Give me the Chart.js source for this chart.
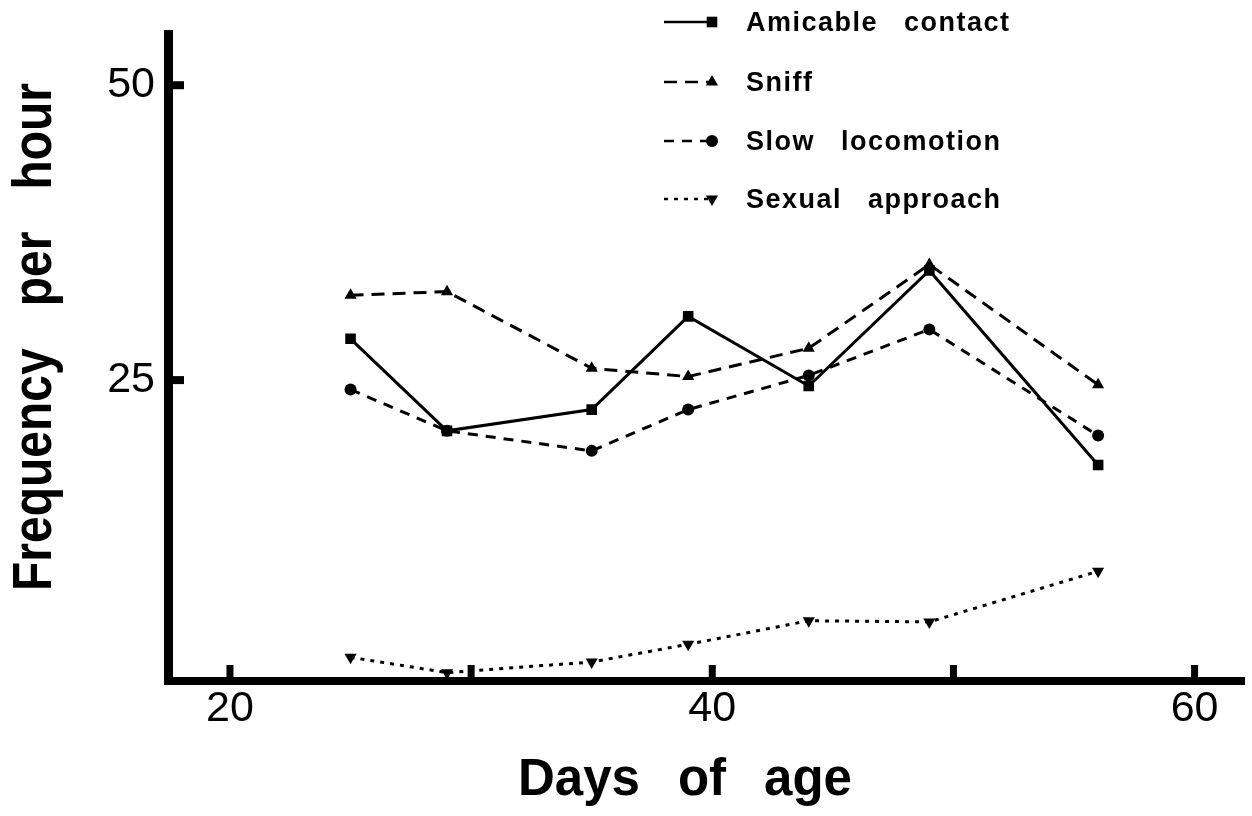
<!DOCTYPE html>
<html><head><meta charset="utf-8">
<script src="https://cdn.jsdelivr.net/npm/chart.js@4.4.1/dist/chart.umd.min.js"></script>
<style>html,body{margin:0;padding:0;background:#fff;} canvas{display:block;}</style>
</head><body>
<canvas id="c" width="1252" height="816"></canvas>
<script>
// ---- data ----
const days = [25, 29, 35, 39, 44, 49, 56];
const amicableContact = [28.5, 20.7, 22.5, 30.4, 24.5, 34.3, 17.8];
const sniff = [32.2, 32.5, 26.0, 25.3, 27.7, 34.8, 24.6];
const slowLocomotion = [24.2, 20.7, 19.0, 22.5, 25.4, 29.3, 20.3];
const sexualApproach = [1.5, 0.2, 1.1, 2.6, 4.6, 4.5, 8.8];
const seriesLabels = ['Amicable contact', 'Sniff', 'Slow locomotion', 'Sexual approach'];
const xTickLabels = [20, 40, 60];
const xTickMarks = [20, 30, 40, 50, 60];
const yTickLabels = [25, 50];
const xTitle = 'Days of age';
const yTitle = 'Frequency per hour';

function pts(arr) { return days.map((d, i) => ({ x: d, y: arr[i] })); }

function drawMarker(ctx, style, r, rot, x, y) {
  ctx.save();
  ctx.translate(x, y);
  ctx.rotate((rot || 0) * Math.PI / 180);
  ctx.fillStyle = '#000';
  ctx.beginPath();
  if (style === 'rect') {
    const s = r * Math.SQRT1_2;
    ctx.rect(-s, -s, 2 * s, 2 * s);
  } else if (style === 'triangle') {
    let a = 0;
    ctx.moveTo(Math.sin(a) * r, -Math.cos(a) * r);
    a += 2 * Math.PI / 3;
    ctx.lineTo(Math.sin(a) * r, -Math.cos(a) * r);
    a += 2 * Math.PI / 3;
    ctx.lineTo(Math.sin(a) * r, -Math.cos(a) * r);
    ctx.closePath();
  } else {
    ctx.arc(0, 0, r, 0, Math.PI * 2);
  }
  ctx.fill();
  ctx.restore();
}

function drawWords(ctx, words, startX, baseY, gap, centered) {
  const widths = words.map(w => ctx.measureText(w).width);
  const total = widths.reduce((a, b) => a + b, 0) + gap * (words.length - 1);
  let xx = centered ? startX - total / 2 : startX;
  ctx.textAlign = 'left';
  ctx.textBaseline = 'alphabetic';
  words.forEach((w, i) => { ctx.fillText(w, xx, baseY); xx += widths[i] + gap; });
}

const decor = {
  id: 'decor',
  beforeDatasetsDraw(chart) {
    const { ctx, scales: { x, y } } = chart;
    ctx.save();
    ctx.fillStyle = '#000';
    yTickLabels.forEach(v => {
      const py = y.getPixelForValue(v);
      ctx.fillRect(y.right + 3, py - 4, 13, 8);
    });
    xTickMarks.forEach(v => {
      const px = x.getPixelForValue(v);
      ctx.fillRect(px - 3.5, x.top - 16, 7, 13);
    });
    ctx.restore();
  },
  afterDraw(chart) {
    const ctx = chart.ctx;
    // axis titles
    ctx.save();
    ctx.fillStyle = '#000';
    ctx.font = 'bold 51px "Liberation Sans"';
    drawWords(ctx, xTitle.split(' '), 685, 795, 38, true);
    ctx.restore();

    ctx.save();
    ctx.fillStyle = '#000';
    ctx.translate(51, 337);
    ctx.rotate(-Math.PI / 2);
    ctx.scale(1, 1.15);
    ctx.font = 'bold 48px "Liberation Sans"';
    drawWords(ctx, yTitle.split(' '), 0, 0, 42, true);
    ctx.restore();

    // legend
    const lx0 = 664, lx1 = 712, tx = 746;
    const baselines = [31, 91, 150, 208];
    chart.data.datasets.forEach((ds, i) => {
      const yb = baselines[i];
      const ym = yb - 9;
      ctx.save();
      ctx.strokeStyle = '#000';
      ctx.lineWidth = 2.5;
      ctx.setLineDash(ds.borderDash || []);
      ctx.beginPath();
      ctx.moveTo(lx0, ym);
      ctx.lineTo(lx1, ym);
      ctx.stroke();
      ctx.setLineDash([]);
      drawMarker(ctx, ds.pointStyle, ds.pointRadius, ds.pointRotation, lx1, ym);
      ctx.fillStyle = '#000';
      ctx.font = 'bold 27px "Liberation Sans"';
      try { ctx.letterSpacing = '1.5px'; } catch (e) {}
      drawWords(ctx, ds.label.split(' '), tx, yb, 26, false);
      ctx.restore();
    });
  }
};

const common = {
  borderColor: '#000',
  backgroundColor: '#000',
  pointBackgroundColor: '#000',
  pointBorderColor: '#000',
  pointBorderWidth: 0,
  fill: false,
  tension: 0
};

new Chart(document.getElementById('c'), {
  type: 'line',
  data: {
    datasets: [
      Object.assign({}, common, { label: seriesLabels[0], data: pts(amicableContact), borderWidth: 3, borderDash: [], pointStyle: 'rect', pointRadius: 7.5, pointRotation: 0 }),
      Object.assign({}, common, { label: seriesLabels[1], data: pts(sniff), borderWidth: 3, borderDash: [13, 8], pointStyle: 'triangle', pointRadius: 7, pointRotation: 0 }),
      Object.assign({}, common, { label: seriesLabels[2], data: pts(slowLocomotion), borderWidth: 3, borderDash: [10, 8], pointStyle: 'circle', pointRadius: 6, pointRotation: 0 }),
      Object.assign({}, common, { label: seriesLabels[3], data: pts(sexualApproach), borderWidth: 3, borderDash: [4, 6], pointStyle: 'triangle', pointRadius: 7, pointRotation: 180 })
    ]
  },
  options: {
    responsive: false,
    animation: false,
    devicePixelRatio: 1,
    events: [],
    layout: { padding: { left: 0, top: 31, right: 7, bottom: 0 } },
    plugins: { legend: { display: false }, tooltip: { enabled: false }, title: { display: false } },
    scales: {
      x: {
        type: 'linear',
        position: 'bottom',
        min: 17.43,
        max: 62.07,
        grid: { display: true, drawOnChartArea: false, drawTicks: false, color: 'rgba(0,0,0,0)', lineWidth: 0 },
        border: { display: true, color: '#000', width: 8 },
        ticks: { color: '#000', font: { family: '"Liberation Sans"', size: 43, lineHeight: 1 }, padding: 7, maxRotation: 0, autoSkip: false },
        afterBuildTicks: s => { s.ticks = xTickLabels.map(v => ({ value: v })); },
        afterFit: s => { s.height = 135; }
      },
      y: {
        type: 'linear',
        position: 'left',
        min: -0.51,
        max: 54.3,
        grid: { display: true, drawOnChartArea: false, drawTicks: false, color: 'rgba(0,0,0,0)', lineWidth: 0 },
        border: { display: true, color: '#000', width: 9 },
        ticks: { color: '#000', font: { family: '"Liberation Sans"', size: 43, lineHeight: 1 }, padding: 13 },
        afterBuildTicks: s => { s.ticks = yTickLabels.map(v => ({ value: v })); },
        afterFit: s => { s.width = 168; }
      }
    }
  },
  plugins: [decor]
});
</script>
</body></html>
